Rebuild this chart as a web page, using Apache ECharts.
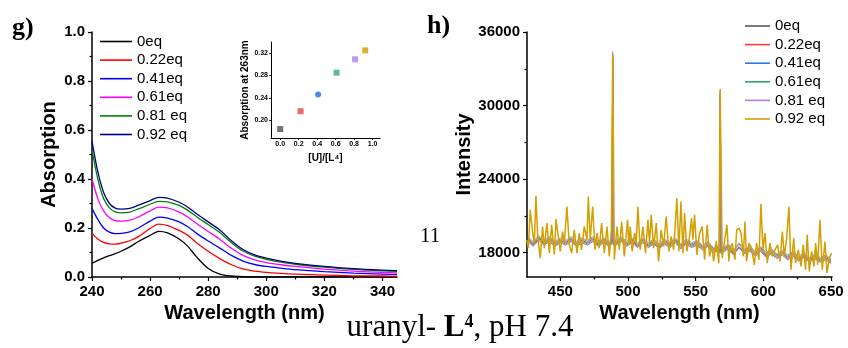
<!DOCTYPE html>
<html><head><meta charset="utf-8">
<script src="https://cdn.jsdelivr.net/npm/echarts@6/dist/echarts.min.js"></script>
<style>html,body{margin:0;padding:0;background:#fff}#c{width:848px;height:348px}</style>
</head><body><div id="c"></div>
<script>
// ---------- panel g : absorption ----------
const seriesLabels = ['0eq','0.22eq','0.41eq','0.61eq','0.81 eq','0.92 eq'];
const absWavelengths = [240,242,244,246,248,250,253,256,260,263,266,270,273,276,280,284,288,292,296,300,305,310,320,330,340,345];
const abs0eq   = [0.056,0.068,0.078,0.087,0.095,0.105,0.123,0.145,0.170,0.186,0.180,0.155,0.125,0.082,0.035,0.012,0.004,0.001,0,0,0,0,0,0,0,0];
const abs022eq = [0.178,0.155,0.141,0.135,0.134,0.138,0.148,0.165,0.198,0.216,0.210,0.190,0.170,0.140,0.105,0.075,0.050,0.033,0.024,0.019,0.015,0.012,0.008,0.005,0.004,0.003];
const abs041eq = [0.280,0.235,0.200,0.183,0.177,0.178,0.184,0.200,0.228,0.244,0.240,0.225,0.205,0.178,0.147,0.118,0.088,0.065,0.051,0.043,0.036,0.030,0.022,0.016,0.012,0.011];
const abs061eq = [0.400,0.320,0.270,0.242,0.230,0.228,0.232,0.245,0.270,0.285,0.282,0.265,0.245,0.218,0.186,0.154,0.117,0.088,0.070,0.059,0.050,0.043,0.032,0.024,0.019,0.017];
const abs081eq = [0.520,0.400,0.320,0.282,0.266,0.262,0.265,0.278,0.297,0.309,0.307,0.292,0.272,0.246,0.214,0.182,0.140,0.106,0.085,0.072,0.061,0.052,0.040,0.031,0.025,0.023];
const abs092eq = [0.555,0.430,0.345,0.300,0.281,0.277,0.280,0.293,0.312,0.325,0.322,0.305,0.285,0.258,0.225,0.192,0.148,0.112,0.090,0.077,0.065,0.056,0.043,0.034,0.028,0.026];
const absTicksX = [240,260,280,300,320,340];
const absMinorX = [250,270,290,310,330];
const gColors = ['#000000','#ff0000','#0000ff','#ff00ff','#008000','#000080'];

// inset
const insetRatio = [0,0.22,0.41,0.61,0.81,0.92];
const insetAbs = [0.184,0.216,0.246,0.285,0.309,0.325];
const insetTicksX = [0,0.2,0.4,0.6,0.8,1.0];
const insetTicksY = [0.20,0.24,0.28,0.32];
const insetColors = ['#505050','#e84545','#1f6fe0','#3aa870','#b07fe0','#d4a000'];
const insetSymbols = ['rect','rect','circle','rect','rect','rect'];

// ---------- panel h : emission ----------
const emX = [426,430,434,438,442,446,450,454,458,462,466,470,474,478,482,486,488.2,488.7,489.2,491,495,499,503,507,511,515,519,523,527,531,535,539,543,547,551,555,559,563,566,567.7,568.2,568.7,570,574,578,582,586,590,594,598,602,606,610,614,618,622,626,630,634,638,642,646,650];
const em0eq   = [19100,18700,19200,18800,19100,18700,19000,18800,19100,18700,19000,18800,19100,18700,19000,18700,18900,33900,18800,18800,19100,18700,19000,18600,19000,18600,18900,18500,18900,18600,19000,18500,18900,18600,18800,18400,18700,18200,18300,18200,31000,18100,18100,18500,18000,18400,18100,18300,17900,18300,17800,18100,17700,18000,17600,17900,17500,17800,17400,17700,17400,17600,17300];
const em022eq = [19000,18600,19100,18700,19000,18600,18900,18700,19000,18600,18900,18700,19000,18600,18900,18600,18800,33900,18700,18700,19000,18600,18900,18500,18900,18500,18800,18400,18800,18500,18900,18400,18800,18500,18700,18300,18600,18100,18200,18100,31000,18000,18000,18400,17900,18500,18000,18200,17800,18200,17700,18000,17600,17900,17500,17800,17400,17700,17300,17600,17300,17500,17200];
const em041eq = [18900,18500,19000,18600,18900,18500,18800,18600,18900,18500,18800,18600,18900,18500,18800,18500,18700,33800,18600,18600,18900,18500,18800,18400,18800,18400,18700,18300,18700,18400,18800,18300,18700,18400,18600,18200,18500,18000,18100,18000,30900,17900,17900,18300,17800,18400,17900,18100,17700,18100,17600,17900,17500,17800,17400,17700,17300,17600,17200,17500,17200,17400,17100];
const em061eq = [19200,18800,19300,18900,19200,18800,19100,18900,19200,18800,19100,18900,19200,18800,19100,18800,19000,34100,18900,18900,19200,18800,19100,18700,19100,18700,19000,18600,19000,18700,19100,18600,19000,18700,18900,18500,18800,18300,18400,18300,31200,18200,18200,18600,18100,18700,18200,18400,18000,18400,17900,18200,17800,18100,17700,18000,17600,17900,17500,17800,17500,17700,17400];
const em081eq = [19300,18900,19400,19000,19300,18900,19200,19000,19300,18900,19200,19000,19300,18900,19200,18900,19100,34400,19000,19000,19300,18900,19200,18800,19200,18800,19100,18700,19100,18800,19200,18700,19100,18800,19000,18600,18900,18400,18500,18400,31300,18300,18300,18700,18200,18800,18300,18500,18100,18500,18000,18300,17900,18200,17800,18100,17700,18000,17600,17900,17600,17800,17500];
const em092Nm = [425.4,426.4,427.8,429.6,430.8,432.0,433.3,435.2,436.9,438.2,440.1,441.9,443.6,445.6,446.8,448.0,450.0,451.7,453.0,454.9,456.6,458.4,460.3,462.3,464.0,465.7,467.7,469.7,470.7,472.1,473.9,475.6,477.1,478.8,480.5,482.5,484.5,486.2,487.7,488.7,489.9,491.9,493.6,495.3,497.3,499.7,500.7,501.7,503.1,504.9,506.1,507.3,509.0,511.0,513.0,514.7,515.9,517.2,518.9,520.9,522.6,524.5,526.3,528.2,530.2,531.9,533.7,536.1,537.6,539.1,540.6,541.8,543.5,545.5,547.0,547.9,549.2,550.9,552.9,554.8,556.6,558.5,560.2,562.2,563.2,565.2,567.1,568.1,569.6,571.3,573.1,574.5,575.4,577.1,579.0,580.3,582.0,583.5,585.2,586.4,587.6,589.4,591.3,593.3,595.0,596.7,598.2,599.7,601.2,602.9,604.9,606.6,608.6,610.5,612.3,614.0,615.5,617.2,618.9,620.4,622.4,623.8,625.8,627.8,629.5,631.2,632.4,633.9,635.6,637.4,638.6,640.1,641.8,643.5,645.5,647.0,648.7,650.4];
const em092eq = [19037,18356,21486,19581,18765,22628,19309,17540,20125,18356,20397,17948,20261,17812,20724,20669,18084,19717,18765,21757,18629,17948,19853,17948,19581,18220,20125,19037,22576,19037,21757,18220,19581,18356,20397,17948,20125,17676,19853,34200,17404,20125,18220,20533,17676,20669,18600,20125,18084,19581,18765,21757,18220,20125,17948,20669,18765,21077,18356,20397,17268,19853,18493,20941,18084,19309,18220,22440,18084,22166,17948,21213,18084,19309,20805,19037,21077,17812,19581,20125,17404,20261,17676,18493,17268,18901,17132,31300,17540,18901,20261,17268,18356,18765,17404,19853,19989,19581,17676,20533,17268,18765,18356,16996,18765,17404,21975,18220,19581,17132,18765,17676,18220,18629,17268,19717,17676,19173,21757,16588,19173,17132,18220,16860,18629,16588,19445,16452,18084,16860,18765,16996,20669,16588,18901,16316,17540,17948];
const emTicksX = [450,500,550,600,650];
const emMinorX = [475,525,575,625];
const emTicksY = [18000,24000,30000,36000];
const emMinorY = [21000,27000,33000];
const hColors = ['#5a5a5a','#ff3b3b','#2b78e4','#35a266','#b47fe3','#d49f00'];

const F = 'Liberation Sans';
const axLine = {show:true, onZero:false, lineStyle:{color:'#000', width:1.5}};
const tickStyle = {color:'#000', width:1.2};
const lblStyle = {color:'#000', fontWeight:'bold', fontSize:15, fontFamily:F};
const nameStyle = {color:'#000', fontWeight:'bold', fontSize:20, fontFamily:F};

const absData = [abs0eq,abs022eq,abs041eq,abs061eq,abs081eq,abs092eq];
const emData = [em0eq,em022eq,em041eq,em061eq,em081eq];

const series = [];
absData.forEach((arr,i)=>{
  series.push({type:'line', name:'g|'+seriesLabels[i], xAxisIndex:0, yAxisIndex:0,
    data: absWavelengths.map((w,j)=>[w,arr[j]]), smooth:0.3, symbol:'none',
    lineStyle:{color:gColors[i], width:1.3}, itemStyle:{color:gColors[i]}, z:2});
});
series.push({type:'scatter', name:'inset', xAxisIndex:2, yAxisIndex:1, symbolSize:6,
  data: insetRatio.map((r,i)=>({value:[r,insetAbs[i]], symbol:insetSymbols[i], itemStyle:{color:insetColors[i]}}))});
emData.forEach((arr,i)=>{
  series.push({type:'line', name:'h|'+seriesLabels[i], xAxisIndex:3, yAxisIndex:2,
    data: emX.map((w,j)=>[w,arr[j]]), symbol:'none',
    lineStyle:{color:hColors[i], width:0.9}, itemStyle:{color:hColors[i]}});
});
series.push({type:'line', name:'h|'+seriesLabels[5], xAxisIndex:3, yAxisIndex:2,
  data: em092Nm.map((w,j)=>[w,em092eq[j]]), symbol:'none',
  lineStyle:{color:hColors[5], width:1.5}, itemStyle:{color:hColors[5]}});

const legendCommon = {orient:'vertical', padding:0, icon:'rect', itemHeight:1.6, itemGap:3.6,
  selectedMode:false, formatter:n=>n.split('|')[1],
  textStyle:{color:'#000', fontSize:15, lineHeight:15, fontFamily:F}};

const option = {
  animation:false,
  backgroundColor:'#fff',
  grid:[
    {left:92, top:32, width:305, height:245},
    {left:271, top:42, width:109, height:96},
    {left:527, top:32, width:305, height:245}
  ],
  xAxis:[
    {type:'value', gridIndex:0, min:240, max:345, position:'bottom', axisLine:axLine,
     axisTick:{show:true, length:4, lineStyle:tickStyle, customValues:absTicksX},
     axisLabel:{...lblStyle, margin:7, customValues:absTicksX}, splitLine:{show:false},
     name:'Wavelength (nm)', nameLocation:'middle', nameGap:26, nameTextStyle:nameStyle},
    {type:'value', gridIndex:0, min:240, max:345, position:'bottom', axisLine:{show:false},
     axisTick:{show:true, length:2.5, lineStyle:tickStyle, customValues:absMinorX},
     axisLabel:{show:false}, splitLine:{show:false}},
    {type:'value', gridIndex:1, min:-0.1, max:1.08, position:'bottom', axisLine:{show:true, onZero:false, lineStyle:{color:'#000', width:1}},
     axisTick:{show:true, length:2, lineStyle:{color:'#000', width:0.8}, customValues:insetTicksX},
     axisLabel:{color:'#000', fontWeight:'bold', fontSize:7, fontFamily:F, margin:3, customValues:insetTicksX, formatter:v=>v.toFixed(1)},
     splitLine:{show:false}, name:'[U]/[L⁴]', nameLocation:'middle', nameGap:15,
     nameTextStyle:{color:'#000', fontWeight:'bold', fontSize:10, fontFamily:F}},
    {type:'value', gridIndex:2, min:425.4, max:650.7, position:'bottom', axisLine:axLine,
     axisTick:{show:true, length:4, lineStyle:tickStyle, customValues:emTicksX},
     axisLabel:{...lblStyle, margin:7, customValues:emTicksX}, splitLine:{show:false},
     name:'Wavelength (nm)', nameLocation:'middle', nameGap:26, nameTextStyle:nameStyle},
    {type:'value', gridIndex:2, min:425.4, max:650.7, position:'bottom', axisLine:{show:false},
     axisTick:{show:true, length:2.5, lineStyle:tickStyle, customValues:emMinorX},
     axisLabel:{show:false}, splitLine:{show:false}}
  ],
  yAxis:[
    {type:'value', gridIndex:0, min:0, max:1, interval:0.2, position:'left', axisLine:axLine,
     axisTick:{show:true, length:4, lineStyle:tickStyle},
     minorTick:{show:true, splitNumber:2, length:2.5, lineStyle:tickStyle},
     axisLabel:{...lblStyle, margin:7, formatter:v=>v.toFixed(1)}, splitLine:{show:false},
     name:'Absorption', nameLocation:'middle', nameRotate:90, nameGap:33, nameTextStyle:nameStyle},
    {type:'value', gridIndex:1, min:0.168, max:0.34, position:'left', axisLine:{show:true, onZero:false, lineStyle:{color:'#000', width:1}},
     axisTick:{show:true, length:2, lineStyle:{color:'#000', width:0.8}, customValues:insetTicksY},
     axisLabel:{color:'#000', fontWeight:'bold', fontSize:7, fontFamily:F, margin:3, customValues:insetTicksY, formatter:v=>v.toFixed(2)},
     splitLine:{show:false}, name:'Absorption at 263nm', nameLocation:'middle', nameRotate:90, nameGap:20,
     nameTextStyle:{color:'#000', fontWeight:'bold', fontSize:10, fontFamily:F}},
    {type:'value', gridIndex:2, min:16000, max:36000, position:'left', axisLine:axLine,
     axisTick:{show:true, length:4, lineStyle:tickStyle, customValues:emTicksY},
     axisLabel:{...lblStyle, margin:7, customValues:emTicksY, formatter:v=>String(v)}, splitLine:{show:false},
     name:'Intensity', nameLocation:'middle', nameRotate:90, nameGap:52, nameTextStyle:nameStyle},
    {type:'value', gridIndex:2, min:16000, max:36000, position:'left', axisLine:{show:false},
     axisTick:{show:true, length:2.5, lineStyle:tickStyle, customValues:emMinorY},
     axisLabel:{show:false}, splitLine:{show:false}}
  ],
  legend:[
    {...legendCommon, data:seriesLabels.map(s=>'g|'+s), left:100, top:34, itemWidth:32},
    {...legendCommon, data:seriesLabels.map(s=>'h|'+s), left:745, top:18.5, itemWidth:25}
  ],
  graphic:[
    {type:'text', style:{text:'g)', x:12, y:28, fill:'#000', font:'bold 26px "Liberation Serif"', align:'left', verticalAlign:'middle'}},
    {type:'text', style:{text:'h)', x:427, y:26, fill:'#000', font:'bold 26px "Liberation Serif"', align:'left', verticalAlign:'middle'}},
    {type:'text', style:{text:'11', x:420, y:236, fill:'#000', font:'21px "Liberation Serif"', align:'left', verticalAlign:'middle'}},
    {type:'text', style:{text:'{n|uranyl- }{b|L}{s|4}{n|, pH 7.4}', x:460, y:328, fill:'#000', align:'center', verticalAlign:'middle',
      rich:{
        n:{fontFamily:'Liberation Serif', fontSize:31, lineHeight:30},
        b:{fontFamily:'Liberation Serif', fontSize:31, fontWeight:'bold', lineHeight:30},
        s:{fontFamily:'Liberation Serif', fontSize:18, fontWeight:'bold', lineHeight:18, verticalAlign:'top'}
      }}}
  ],
  series: series
};
const chart = echarts.init(document.getElementById('c'), null, {renderer:'canvas'});
chart.setOption(option);
</script>
</body></html>
